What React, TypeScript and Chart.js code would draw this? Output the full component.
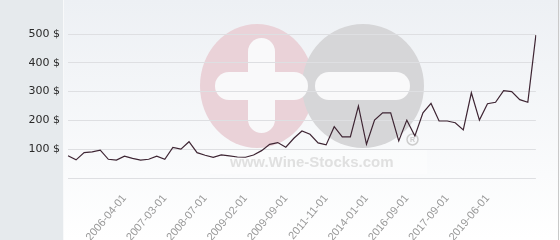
import React, { useEffect, useRef } from 'react';
import { Chart, registerables } from 'chart.js';

Chart.register(...registerables);

// Visible date ticks on the category axis (every 5th point, starting at point 7)
const tickLabels = [
  '2006-04-01', '2007-03-01', '2008-07-01', '2009-02-01', '2009-09-01',
  '2011-11-01', '2014-01-01', '2016-09-01', '2017-09-01', '2019-06-01',
];
const firstTickIndex = 7;
const tickStep = 5;

// Price series ($)
const prices = [
  77, 63, 88, 91, 97, 65, 62, 76, 68, 62,
  65, 76, 65, 106, 100, 126, 88, 79, 72, 80,
  77, 73, 72, 80, 95, 117, 123, 107, 138, 163,
  152, 122, 115, 178, 143, 143, 250, 117, 201, 226,
  226, 129, 201, 146, 226, 259, 198, 198, 192, 167,
  296, 201, 258, 263, 303, 300, 272, 263, 496,
];

const yMin = 0;
const yMax = 500;
const yStep = 100;
const currency = '$';
const watermarkText = 'www.Wine-Stocks.com';

const labels = prices.map((_, i) => {
  const k = (i - firstTickIndex) / tickStep;
  return Number.isInteger(k) && k >= 0 && k < tickLabels.length ? tickLabels[k] : '';
});

function roundRect(ctx: CanvasRenderingContext2D, x: number, y: number, w: number, h: number, r: number) {
  ctx.beginPath();
  ctx.moveTo(x + r, y);
  ctx.lineTo(x + w - r, y);
  ctx.arcTo(x + w, y, x + w, y + r, r);
  ctx.lineTo(x + w, y + h - r);
  ctx.arcTo(x + w, y + h, x + w - r, y + h, r);
  ctx.lineTo(x + r, y + h);
  ctx.arcTo(x, y + h, x, y + h - r, r);
  ctx.lineTo(x, y + r);
  ctx.arcTo(x, y, x + r, y, r);
  ctx.closePath();
  ctx.fill();
}

const backgroundPlugin = {
  id: 'wsBackground',
  beforeDraw(chart: any) {
    const { ctx, width, height } = chart;
    ctx.save();
    ctx.fillStyle = '#e6eaed';
    ctx.fillRect(0, 0, width, height);
    const g = ctx.createLinearGradient(0, 0, 0, height);
    g.addColorStop(0, '#edf0f4');
    g.addColorStop(1, '#ffffff');
    ctx.fillStyle = g;
    ctx.fillRect(64, 0, width - 64, height);
    ctx.fillStyle = '#f8f9fa';
    ctx.fillRect(63, 0, 1, height);
    ctx.fillStyle = '#c9c9c9';
    ctx.fillRect(width - 2, 0, 1, height);

    // watermark
    ctx.fillStyle = '#ead2d8';
    ctx.beginPath();
    ctx.ellipse(257, 86, 57, 62, 0, 0, Math.PI * 2);
    ctx.fill();
    ctx.fillStyle = '#d6d6d8';
    ctx.beginPath();
    ctx.ellipse(363, 86, 61, 62, 0, 0, Math.PI * 2);
    ctx.fill();
    ctx.fillStyle = '#f9f9fa';
    roundRect(ctx, 248, 38, 27, 95, 13.5);
    roundRect(ctx, 215, 72, 93, 28, 14);
    roundRect(ctx, 315, 72, 95, 28, 14);

    ctx.fillStyle = 'rgba(255,255,255,0.35)';
    ctx.fillRect(210, 150, 217, 24);
    ctx.fillStyle = '#e0e0e0';
    ctx.font = 'bold 15px "Liberation Sans", Arial, sans-serif';
    ctx.textBaseline = 'alphabetic';
    ctx.textAlign = 'left';
    ctx.fillText(watermarkText, 230, 167);

    ctx.strokeStyle = '#cdcdcd';
    ctx.lineWidth = 1.5;
    ctx.beginPath();
    ctx.arc(412.5, 139.5, 5.5, 0, Math.PI * 2);
    ctx.stroke();
    ctx.fillStyle = '#cdcdcd';
    ctx.font = 'bold 7px "Liberation Sans", Arial, sans-serif';
    ctx.textAlign = 'center';
    ctx.textBaseline = 'middle';
    ctx.fillText('R', 412.5, 140);
    ctx.restore();
  },
};

export default function App() {
  const canvasRef = useRef<HTMLCanvasElement | null>(null);

  useEffect(() => {
    const canvas = canvasRef.current;
    if (!canvas) return;
    const chart = new Chart(canvas, {
      type: 'line',
      data: {
        labels,
        datasets: [
          {
            data: prices,
            borderColor: '#3e2533',
            borderWidth: 1.2,
            pointRadius: 0,
            tension: 0,
            fill: false,
          },
        ],
      },
      options: {
        animation: false,
        responsive: false,
        layout: { padding: { top: 34, right: 6, left: 0, bottom: 0 } },
        plugins: { legend: { display: false }, tooltip: { enabled: false } },
        scales: {
          x: {
            offset: false,
            grid: { display: false, drawTicks: false },
            border: { display: false },
            afterFit: (scale: any) => {
              scale.height = 62;
            },
            ticks: {
              autoSkip: false,
              minRotation: 50,
              maxRotation: 50,
              padding: 14,
              color: '#999999',
              font: { family: '"Liberation Sans", Arial, sans-serif', size: 11 },
            },
          },
          y: {
            min: yMin,
            max: yMax,
            grid: { color: '#dedfe2', drawTicks: false, lineWidth: 1 },
            border: { display: false },
            afterFit: (scale: any) => {
              scale.width = 68;
            },
            ticks: {
              stepSize: yStep,
              padding: 8,
              color: '#2a2a2a',
              font: { family: '"DejaVu Sans", sans-serif', size: 11 },
              callback: (v: any) => (Number(v) === 0 ? '' : `${v} ${currency}`),
            },
          },
        },
      },
      plugins: [backgroundPlugin],
    });
    return () => chart.destroy();
  }, []);

  return (
    <div style={{ position: 'absolute', left: 0, top: 0, width: 560, height: 240 }}>
      <canvas ref={canvasRef} width={560} height={240} style={{ display: 'block' }} />
    </div>
  );
}
